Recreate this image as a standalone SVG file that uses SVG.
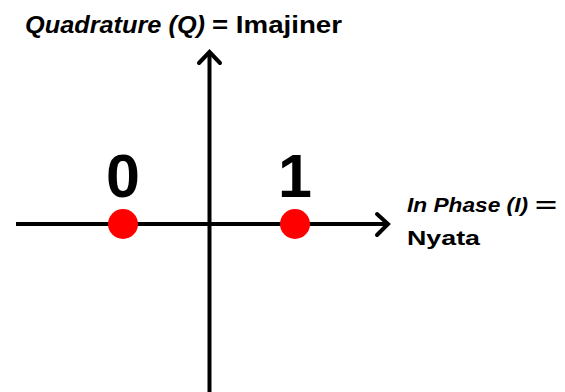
<svg xmlns="http://www.w3.org/2000/svg" width="565" height="392" viewBox="0 0 565 392">
<style>
.ax{stroke:#000;stroke-width:4;fill:none}
.ah{stroke:#000;stroke-width:4;fill:none;stroke-linecap:round;stroke-linejoin:miter}
.t{font-family:"Liberation Sans",Arial,sans-serif;font-weight:bold;fill:#000}
.i{font-style:italic}
.dot{fill:#ff0000}
.dig{font-family:"Liberation Sans",Arial,sans-serif;font-weight:bold;font-size:61px;text-anchor:middle;fill:#000}
</style>
<rect width="565" height="392" fill="#fff"/>
<g id="connectors">
<line class="ax" x1="16" y1="224" x2="388" y2="224"/>
<polyline class="ah" points="377,214 388,224 377,235"/>
<line class="ax" x1="209.5" y1="54" x2="209.5" y2="392"/>
<polyline class="ah" points="199,63 209.5,52 220,63"/>
</g>
<g id="axis-q-label">
<text class="t i" x="25" y="33" font-size="24" textLength="180" lengthAdjust="spacingAndGlyphs">Quadrature (Q)</text>
<text class="t" x="212" y="33" font-size="24" textLength="130" lengthAdjust="spacingAndGlyphs">= Imajiner</text>
</g>
<g id="axis-i-label">
<text class="t i" x="407" y="212" font-size="21" textLength="121" lengthAdjust="spacingAndGlyphs">In Phase (I)</text>
<text class="t" x="535" y="212" font-size="21" textLength="22" lengthAdjust="spacingAndGlyphs">=</text>
<text class="t" x="407" y="245" font-size="21" textLength="73" lengthAdjust="spacingAndGlyphs">Nyata</text>
</g>
<g id="point-0">
<circle class="dot" cx="123" cy="224" r="15"/>
<text class="dig" x="123" y="197">0</text>
</g>
<g id="point-1">
<circle class="dot" cx="295" cy="224" r="15"/>
<text class="dig" x="295" y="197">1</text>
</g>
</svg>
